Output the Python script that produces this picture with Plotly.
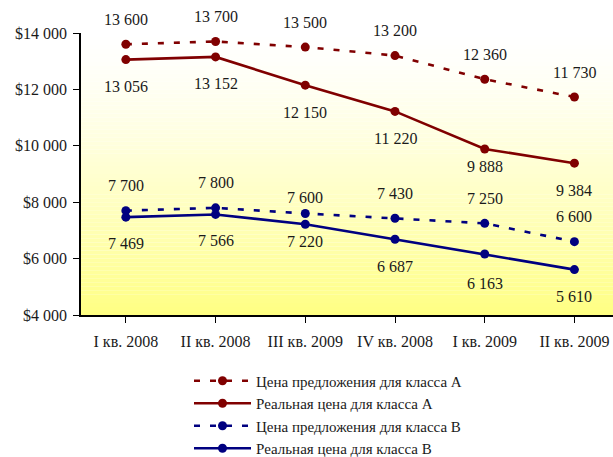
import plotly.graph_objects as go

# Quarters and prices (USD per sq. m)
quarters = ["I кв. 2008", "II кв. 2008", "III кв. 2009", "IV кв. 2008", "I кв. 2009", "II кв. 2009"]
offer_a = [13600, 13700, 13500, 13200, 12360, 11730]
real_a = [13056, 13152, 12150, 11220, 9888, 9384]
offer_b = [7700, 7800, 7600, 7430, 7250, 6600]
real_b = [7469, 7566, 7220, 6687, 6163, 5610]

y_ticks = [4000, 6000, 8000, 10000, 12000, 14000]

# vertical offset (px) of each value label from its point
shift_offer_a = [25, 25, 25, 25, 25, 25]
shift_real_a = [-27, -27, -27, -27, -18, -27]
shift_offer_b = [25, 25, 16, 25, 25, 25]
shift_real_b = [-26, -26, -17, -27, -29, -27]

RED = "#800000"
BLUE = "#000080"
FONT = "Liberation Serif, Times New Roman, serif"


def spaced(v):
    return f"{v:,}".replace(",", " ")


series = [
    ("Цена предложения для класса А", offer_a, RED, "6px,10px", shift_offer_a),
    ("Реальная цена для класса А", real_a, RED, "solid", shift_real_a),
    ("Цена предложения для класса В", offer_b, BLUE, "6px,10px", shift_offer_b),
    ("Реальная цена для класса В", real_b, BLUE, "solid", shift_real_b),
]

fig = go.Figure()
annotations = []
for name, vals, color, dash, shifts in series:
    xs = list(range(len(quarters)))
    fig.add_trace(go.Scatter(
        x=xs, y=vals, name=name, mode="lines+markers",
        line=dict(color=color, width=2.6, dash=dash),
        marker=dict(color=color, size=9),
        cliponaxis=False,
    ))
    for xi, v, s in zip(xs, vals, shifts):
        annotations.append(dict(
            x=xi, y=v, xref="x", yref="y", showarrow=False,
            text=spaced(v), yshift=s,
            font=dict(family=FONT, size=16, color="#1a1a1a"),
        ))

# white-to-yellow gradient behind the plot area
n = 70
shapes = []
for i in range(n):
    t = (i + 0.5) / n
    b = round(255 - 125 * t ** 1.4)
    shapes.append(dict(
        type="rect", xref="x domain", yref="y domain",
        x0=0, x1=1, y0=1 - (i + 1) / n, y1=1 - i / n,
        fillcolor=f"rgb(255,255,{b})", line=dict(width=0), layer="below",
    ))

fig.update_layout(
    width=613, height=457,
    margin=dict(l=81, r=0, t=33, b=142, autoexpand=False),
    paper_bgcolor="white", plot_bgcolor="rgba(0,0,0,0)",
    font=dict(family=FONT, size=16, color="#1a1a1a"),
    shapes=shapes,
    annotations=annotations,
    showlegend=True,
    legend=dict(
        x=(189 - 81) / 532, y=-0.1755, xanchor="left", yanchor="top",
        font=dict(family=FONT, size=15, color="#1a1a1a"),
        itemwidth=57, tracegroupgap=0, bgcolor="rgba(0,0,0,0)",
    ),
    xaxis=dict(
        range=[-0.5, 5.43],
        tickmode="array", tickvals=list(range(len(quarters))), ticktext=quarters,
        tickson="boundaries", ticks="outside", ticklen=6, tickcolor="black",
        showline=True, linecolor="black", linewidth=1.5,
        showgrid=False, zeroline=False, ticklabelstandoff=5,
        tickfont=dict(family=FONT, size=16),
    ),
    yaxis=dict(
        range=[4000, 14000], tickmode="array", tickvals=y_ticks,
        ticktext=["$" + spaced(v) for v in y_ticks],
        ticks="outside", ticklen=6, tickcolor="black",
        showline=True, linecolor="black", linewidth=1.5,
        showgrid=False, zeroline=False, ticklabelstandoff=3,
        tickfont=dict(family=FONT, size=16),
    ),
)

fig.write_html("out.html")
